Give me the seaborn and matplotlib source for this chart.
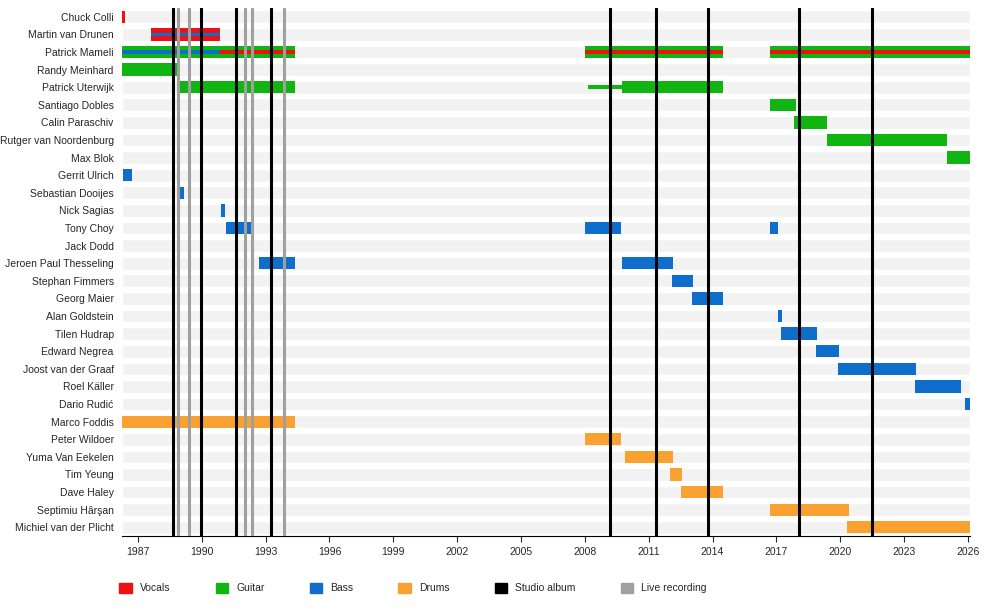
import matplotlib
matplotlib.use("Agg")
import matplotlib.pyplot as plt
import seaborn as sns
from matplotlib.patches import Patch

sns.set_style("white")
plt.rcParams['font.family'] = ['Liberation Sans', 'DejaVu Sans']

members = ["Chuck Colli", "Martin van Drunen", "Patrick Mameli", "Randy Meinhard",
           "Patrick Uterwijk", "Santiago Dobles", "Calin Paraschiv", "Rutger van Noordenburg",
           "Max Blok", "Gerrit Ulrich", "Sebastian Dooijes", "Nick Sagias", "Tony Choy",
           "Jack Dodd", "Jeroen Paul Thesseling", "Stephan Fimmers", "Georg Maier",
           "Alan Goldstein", "Tilen Hudrap", "Edward Negrea", "Joost van der Graaf",
           "Roel Käller", "Dario Rudić", "Marco Foddis", "Peter Wildoer", "Yuma Van Eekelen",
           "Tim Yeung", "Dave Haley", "Septimiu Hârşan", "Michiel van der Plicht"]

# (member, start, end) per role
vocals = [("Chuck Colli", 1986.25, 1986.4), ("Martin van Drunen", 1987.6, 1990.85),
          ("Patrick Mameli", 1986.25, 1994.4), ("Patrick Mameli", 2008.0, 2014.5),
          ("Patrick Mameli", 2016.7, 2026.1)]
guitar = [("Patrick Mameli", 1986.25, 1994.4), ("Patrick Mameli", 2008.0, 2014.5),
          ("Patrick Mameli", 2016.7, 2026.1), ("Randy Meinhard", 1986.25, 1988.9),
          ("Patrick Uterwijk", 1988.9, 1994.4), ("Patrick Uterwijk", 2009.75, 2014.5),
          ("Santiago Dobles", 2016.7, 2017.9), ("Calin Paraschiv", 2017.85, 2019.4),
          ("Rutger van Noordenburg", 2019.4, 2025.0), ("Max Blok", 2025.0, 2026.1)]
guitar_thin = [("Patrick Uterwijk", 2008.15, 2009.75)]
bass = [("Gerrit Ulrich", 1986.3, 1986.7), ("Sebastian Dooijes", 1988.93, 1989.16),
        ("Nick Sagias", 1990.9, 1991.1), ("Tony Choy", 1991.15, 1992.4),
        ("Tony Choy", 2008.0, 2009.7), ("Tony Choy", 2016.7, 2017.1),
        ("Jack Dodd", 1992.35, 1992.45), ("Jeroen Paul Thesseling", 1992.7, 1994.4),
        ("Jeroen Paul Thesseling", 2009.75, 2012.15), ("Stephan Fimmers", 2012.1, 2013.1),
        ("Georg Maier", 2013.05, 2014.5), ("Alan Goldstein", 2017.07, 2017.25),
        ("Tilen Hudrap", 2017.2, 2018.9), ("Edward Negrea", 2018.85, 2019.95),
        ("Joost van der Graaf", 2019.9, 2023.55), ("Roel Käller", 2023.5, 2025.7),
        ("Dario Rudić", 2025.85, 2026.1)]
bass_stripe = [("Martin van Drunen", 1987.6, 1990.85), ("Patrick Mameli", 1986.25, 1990.85)]
drums = [("Marco Foddis", 1986.25, 1994.4), ("Peter Wildoer", 2008.0, 2009.7),
         ("Yuma Van Eekelen", 2009.9, 2012.15), ("Tim Yeung", 2012.0, 2012.55),
         ("Dave Haley", 2012.5, 2014.5), ("Septimiu Hârşan", 2016.7, 2020.4),
         ("Michiel van der Plicht", 2020.3, 2026.1)]
studio_albums = [1988.65, 1989.96, 1991.6, 1993.25, 2009.2, 2011.35, 2013.8, 2018.07, 2021.5]
live_recordings = [1988.9, 1989.4, 1992.05, 1992.35, 1993.85]
xticks = list(range(1987, 2027, 3))

C_VOC, C_GTR, C_BASS, C_DRM = "#ee1111", "#11b511", "#0f6dcc", "#f9a232"
X0, X1 = 1986.25, 2026.1

fig = plt.figure(figsize=(10, 6.12), dpi=100)
ax = fig.add_axes([0.122, 0.124, 0.848, 0.863])
idx = {m: i for i, m in enumerate(members)}

for i in range(len(members)):
    ax.barh(i, X1 - X0, left=X0, height=0.72, color="#f2f2f2", zorder=0)

def draw(lst, color, h, z):
    for m, s, e in lst:
        ax.barh(idx[m], e - s, left=s, height=h, color=color, zorder=z, linewidth=0)

draw(guitar, C_GTR, 0.7, 2)
draw(guitar_thin, C_GTR, 0.25, 2)
draw(bass, C_BASS, 0.7, 2)
draw(drums, C_DRM, 0.7, 2)
draw([v for v in vocals if v[0] != "Patrick Mameli"], C_VOC, 0.7, 2)
draw([v for v in vocals if v[0] == "Patrick Mameli"], C_VOC, 0.25, 3)
draw(bass_stripe, C_BASS, 0.18, 4)

for x in live_recordings:
    ax.axvline(x, color="#a0a0a0", lw=2.2, zorder=5)
for x in studio_albums:
    ax.axvline(x, color="black", lw=2.2, zorder=5)

ax.set_xlim(X0, X1)
ax.set_ylim(len(members) - 0.5, -0.5)
ax.set_yticks(range(len(members)))
ax.set_yticklabels(members, fontsize=7.5)
ax.set_xticks(xticks)
ax.set_xticklabels([str(t) for t in xticks], fontsize=7.5)
ax.tick_params(axis="y", length=0, pad=6)
ax.tick_params(axis="x", length=4, bottom=True, direction="out")
for s in ["top", "right", "left"]:
    ax.spines[s].set_visible(False)
ax.spines["bottom"].set_color("black")
ax.spines["bottom"].set_linewidth(0.8)

handles = [Patch(color=C_VOC, label="Vocals"), Patch(color=C_GTR, label="Guitar"),
           Patch(color=C_BASS, label="Bass"), Patch(color=C_DRM, label="Drums"),
           Patch(color="black", label="Studio album"), Patch(color="#a0a0a0", label="Live recording")]
fig.legend(handles=handles, loc="lower left", bbox_to_anchor=(0.11, 0.015), ncol=6,
           frameon=False, fontsize=7.5, handlelength=1.2, handleheight=1.2, columnspacing=4.3)

fig.savefig("out.png", dpi=100)
